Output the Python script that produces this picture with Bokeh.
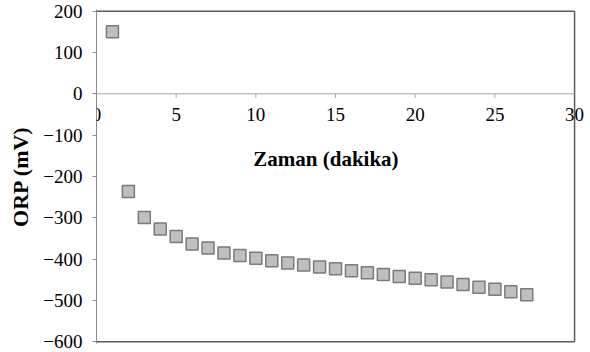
from bokeh.plotting import figure
from bokeh.models import Range1d, FixedTicker, Label
from bokeh.embed import file_html
from bokeh.resources import INLINE

# ORP readings over time
minutes = list(range(1, 28))
orp_mv = [150, -236, -299, -327, -345, -363, -373, -385, -391, -398,
          -404, -409, -414, -419, -423, -428, -433, -437, -442, -446,
          -450, -455, -461, -468, -473, -479, -486]

x_ticks = [0, 5, 10, 15, 20, 25, 30]
y_ticks = [200, 100, 0, -100, -200, -300, -400, -500, -600]

FONT = "Liberation Serif"
X_MIN, X_MAX = x_ticks[0], x_ticks[-1]
Y_MIN, Y_MAX = y_ticks[-1], y_ticks[0]

# the frame is a little wider than the data box so the last x label is not cut
p = figure(width=590, height=352, output_backend="svg", toolbar_location=None,
           x_range=Range1d(X_MIN, 31.0), y_range=Range1d(Y_MIN - 4, Y_MAX + 4),
           min_border_left=96, min_border_right=0,
           min_border_top=9, min_border_bottom=9)

p.xgrid.visible = False
p.ygrid.visible = False
p.xaxis.visible = False
p.outline_line_color = None

# y axis
p.yaxis.ticker = FixedTicker(ticks=y_ticks)
p.yaxis.axis_line_color = "#8c8c8c"
p.yaxis.major_tick_line_color = "#8c8c8c"
p.yaxis.major_tick_out = 4
p.yaxis.major_tick_in = 0
p.yaxis.minor_tick_line_color = None
p.yaxis.major_label_text_font = FONT
p.yaxis.major_label_text_font_size = "19px"
p.yaxis.major_label_text_color = "#000000"
p.yaxis.major_label_standoff = 10
p.yaxis.axis_label = "ORP (mV)"
p.yaxis.axis_label_text_font = FONT
p.yaxis.axis_label_text_font_size = "22px"
p.yaxis.axis_label_text_font_style = "bold"
p.yaxis.axis_label_text_color = "#000000"
p.yaxis.axis_label_standoff = 7

# box around the data area
p.segment(x0=[X_MIN, X_MIN, X_MAX], y0=[Y_MAX, Y_MIN, Y_MIN],
          x1=[X_MAX, X_MAX, X_MAX], y1=[Y_MAX, Y_MIN, Y_MAX],
          line_color="#5a5a5a", line_width=1.5)

# x axis drawn along y = 0
p.segment(x0=[X_MIN], y0=[0], x1=[X_MAX], y1=[0], line_color="#a6a6a6", line_width=1)
p.segment(x0=x_ticks[1:-1], y0=[0] * 5, x1=x_ticks[1:-1], y1=[-10] * 5,
          line_color="#a6a6a6", line_width=1)
for t in x_ticks:
    p.add_layout(Label(x=t, y=0, text=str(t), text_font=FONT,
                       text_font_size="19px", text_align="center",
                       text_baseline="top", y_offset=-14,
                       text_color="#000000"))
p.add_layout(Label(x=14.4, y=0, text="Zaman (dakika)", text_font=FONT,
                   text_font_size="21px", text_font_style="bold",
                   text_align="center", text_baseline="middle",
                   y_offset=-65, text_color="#000000"))

p.scatter(minutes, orp_mv, marker="square", size=12,
          fill_color="#bfbfbf", line_color="#7a7a7a", line_width=1.5)

open("out.html", "w").write(file_html(p, INLINE))
